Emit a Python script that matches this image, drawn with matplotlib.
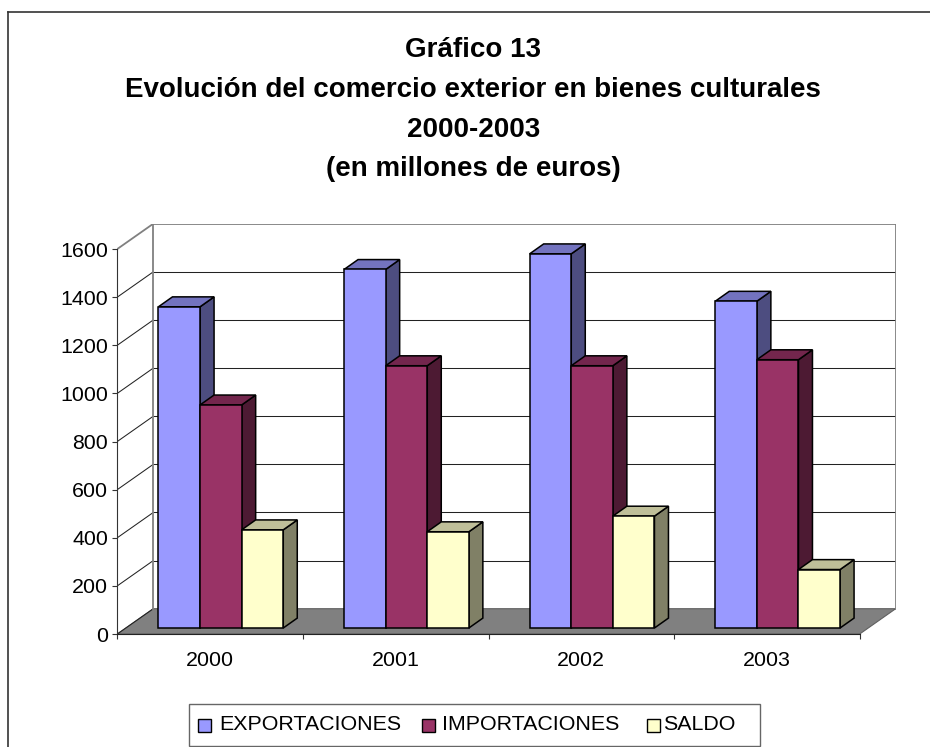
import matplotlib
matplotlib.use('Agg')
import matplotlib.pyplot as plt
from matplotlib.patches import Polygon, Rectangle
from matplotlib.lines import Line2D

plt.rcParams['font.family'] = ['Liberation Sans', 'DejaVu Sans']

# ---------------- data ----------------
categories = ['2000', '2001', '2002', '2003']
exportaciones = [1335, 1490, 1555, 1358]
importaciones = [927, 1090, 1090, 1115]
saldo = [408, 400, 465, 243]
series_names = ['EXPORTACIONES', 'IMPORTACIONES', 'SALDO']
y_ticks = [0, 200, 400, 600, 800, 1000, 1200, 1400, 1600]
title_lines = ['Gráfico 13',
               'Evolución del comercio exterior en bienes culturales',
               '2000-2003',
               '(en millones de euros)']

front_colors = ['#9999FF', '#993366', '#FFFFCC']
top_colors = ['#7373BF', '#73264D', '#BFBF99']
side_colors = ['#4D4D80', '#4D1A33', '#808066']

# ---------------- layout ----------------
W, H = 930, 747
fig = plt.figure(figsize=(W / 100, H / 100), dpi=100)


def fx(x):
    return x / W


def fy(y):
    return 1 - y / H


x0px, catw = 117.3, 185.6          # px of category -0.5 and width of a category
y0px, ppu = 634.0, 385.0 / 1600.0  # px of value 0 and px per unit
wdx = 36.0 / catw                  # wall depth (data units)
wdy = 25.3 / ppu
bdx = 14.0 / catw                  # bar depth
bdy = 9.9 / ppu
bx_off = 0.058                     # bar front plane offset
by_off = 6.0 / ppu
bar_w = 41.6 / catw

xmin, xmax = -0.5, 3.5 + wdx
ymax = 1600 + wdy
ax = fig.add_axes([fx(x0px), (H - y0px) / H,
                   (xmax - xmin) * catw / W, ymax * ppu / H])
ax.set_xlim(xmin, xmax)
ax.set_ylim(0, ymax)
ax.patch.set_visible(False)

# chart area border (left and top visible)
fig.add_artist(Line2D([fx(8), fx(8)], [fy(12), 0], color='#333333', lw=1.2))
fig.add_artist(Line2D([fx(8), 1], [fy(12), fy(12)], color='#333333', lw=1.2))

# floor
ax.add_patch(Polygon([(-0.5, 0), (3.5, 0), (3.5 + wdx, wdy), (-0.5 + wdx, wdy)],
                     closed=True, facecolor='#808080', edgecolor='#606060',
                     lw=0.8, zorder=1))

# gridlines on side and back walls
for v in y_ticks:
    c = '#808080' if v == 1600 else '#222222'
    lw = 1.3 if v == 1600 else 0.75
    ax.plot([-0.5, -0.5 + wdx], [v, v + wdy], color=c, lw=lw, zorder=1.5,
            solid_capstyle='butt')
    if v > 0:
        ax.plot([-0.5 + wdx, 3.5 + wdx], [v + wdy, v + wdy], color=c, lw=lw,
                zorder=1.5, solid_capstyle='butt')
# back wall edges
ax.plot([-0.5 + wdx, -0.5 + wdx], [wdy, 1600 + wdy], color='#808080', lw=1.3, zorder=1.5)
ax.plot([3.5 + wdx, 3.5 + wdx], [wdy, 1600 + wdy], color='#808080', lw=1.3, zorder=1.5)

# bars
series = [exportaciones, importaciones, saldo]
xs = list(range(len(categories)))
for i, vals in enumerate(series):
    pos = [x + (i - 1) * bar_w + bx_off for x in xs]
    ax.bar(pos, vals, width=bar_w, bottom=by_off, color=front_colors[i],
           edgecolor='black', lw=1.1, zorder=3 + 2 * i, label=series_names[i])
    for p, v in zip(pos, vals):
        r = p + bar_w / 2
        l = p - bar_w / 2
        top = v + by_off
        ax.add_patch(Polygon([(r, by_off), (r + bdx, by_off + bdy),
                              (r + bdx, top + bdy), (r, top)],
                             closed=True, facecolor=side_colors[i],
                             edgecolor='black', lw=1.1, zorder=2 + 2 * i))
        ax.add_patch(Polygon([(l, top), (r, top), (r + bdx, top + bdy),
                              (l + bdx, top + bdy)],
                             closed=True, facecolor=top_colors[i],
                             edgecolor='black', lw=1.1, zorder=2 + 2 * i))

# axes
for s in ['top', 'right']:
    ax.spines[s].set_visible(False)
ax.spines['left'].set_bounds(0, 1600)
ax.spines['left'].set_color('#333333')
ax.spines['bottom'].set_bounds(-0.5, 3.5)
ax.spines['bottom'].set_color('#222222')
ax.spines['bottom'].set_zorder(10)

ax.set_yticks(y_ticks)
ax.set_yticklabels([str(v) for v in y_ticks])
ax.tick_params(axis='y', direction='out', length=3.6, width=0.8, color='#333333',
               pad=2.9, labelsize=15.4)
ax.set_xticks([-0.5, 0.5, 1.5, 2.5, 3.5])
ax.set_xticklabels([])
ax.set_xticks(xs, minor=True)
ax.set_xticklabels(categories, minor=True)
ax.tick_params(axis='x', which='major', direction='out', length=3.6, width=0.8,
               color='#333333')
ax.tick_params(axis='x', which='minor', length=0, pad=12.5, labelsize=15.4)

# title
baselines = [57, 97, 137, 176]
for t, b in zip(title_lines, baselines):
    fig.text(fx(473.3), fy(b), t, ha='center', va='baseline',
             fontsize=20, fontweight='bold')

# legend (manual box)
fig.add_artist(Rectangle((fx(189), fy(746)), fx(760 - 189), (746 - 704) / H,
                         facecolor='white', edgecolor='#666666', lw=1.0))
hx = [198, 421.5, 647]
tx = [219, 441.5, 662.7]
for i in range(3):
    fig.add_artist(Rectangle((fx(hx[i]), fy(731.5)), fx(13), 13 / H,
                             facecolor=front_colors[i], edgecolor='black', lw=1.0))
    fig.text(fx(tx[i]), fy(725), series_names[i], ha='left', va='center',
             fontsize=15.4)

fig.savefig('out.png', dpi=100)
